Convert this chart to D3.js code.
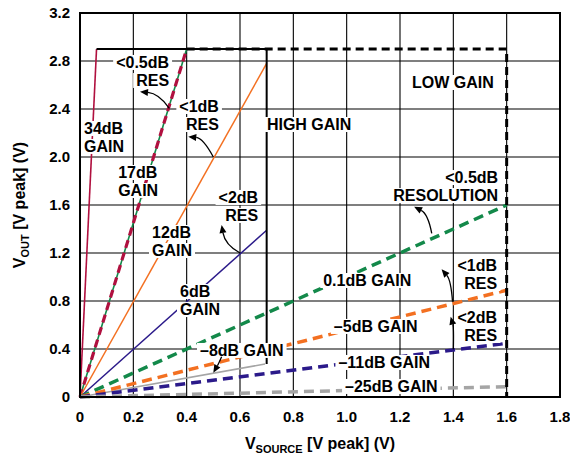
<!DOCTYPE html>
<html>
<head>
<meta charset="utf-8">
<script src="https://cdn.jsdelivr.net/npm/d3@7/dist/d3.min.js"></script>
<style>
  body { margin: 0; background: #fff; }
  svg { display: block; font-family: "Liberation Sans", Arial, sans-serif; font-weight: bold; }
</style>
</head>
<body>
<div id="chart"></div>
<script>
// axis ticks
const xTicks = [0, 0.2, 0.4, 0.6, 0.8, 1.0, 1.2, 1.4, 1.6, 1.8];
const yTicks = [0, 0.4, 0.8, 1.2, 1.6, 2.0, 2.4, 2.8, 3.2];
const xTickLabels = ["0", "0.2", "0.4", "0.6", "0.8", "1.0", "1.2", "1.4", "1.6", "1.8"];
const yTickLabels = ["0", "0.4", "0.8", "1.2", "1.6", "2.0", "2.4", "2.8", "3.2"];

// gain lines: each starts at the origin and ends where it clips
const gainNames = ["34dB", "17dB", "12dB", "6dB", "–8dB", "0.1dB", "–5dB", "–11dB", "–25dB"];
const endVsource = [0.062, 0.4, 0.7, 0.7, 0.694, 1.6, 1.6, 1.6, 1.6];
const endVout = [2.9, 2.9, 2.78, 1.39, 0.275, 1.6, 0.89, 0.447, 0.086];

// range boxes
const highGainBox = [[0.062, 2.9], [0.7, 2.9], [0.7, 0.275]];
const lowGainBox = [[0.4, 2.9], [1.6, 2.9], [1.6, 0]];

// text annotations: lines, anchor point (V), alignment
const notes = [
  { lines: ["<0.5dB", "RES"], x: 0.334, y: 2.742, align: "end" },
  { lines: ["<1dB", "RES"], x: 0.521, y: 2.375, align: "end" },
  { lines: ["34dB", "GAIN"], x: 0.015, y: 2.192, align: "start" },
  { lines: ["17dB", "GAIN"], x: 0.143, y: 1.825, align: "start" },
  { lines: ["HIGH GAIN"], x: 0.701, y: 2.225, align: "start" },
  { lines: ["LOW GAIN"], x: 1.245, y: 2.575, align: "start" },
  { lines: ["<0.5dB", "RESOLUTION"], x: 1.568, y: 1.783, align: "end" },
  { lines: ["<2dB", "RES"], x: 0.668, y: 1.617, align: "end" },
  { lines: ["12dB", "GAIN"], x: 0.27, y: 1.325, align: "start" },
  { lines: ["6dB", "GAIN"], x: 0.375, y: 0.833, align: "start" },
  { lines: ["0.1dB GAIN"], x: 0.912, y: 0.925, align: "start" },
  { lines: ["–5dB GAIN"], x: 0.952, y: 0.542, align: "start" },
  { lines: ["–8dB GAIN"], x: 0.45, y: 0.342, align: "start" },
  { lines: ["–11dB GAIN"], x: 0.969, y: 0.242, align: "start" },
  { lines: ["–25dB GAIN"], x: 0.994, y: 0.042, align: "start" },
  { lines: ["<1dB", "RES"], x: 1.564, y: 1.05, align: "end" },
  { lines: ["<2dB", "RES"], x: 1.564, y: 0.617, align: "end" },
];

// curved pointer arrows: tail, control, head (V)
const arrows = [
  { from: [0.335, 2.406], ctrl: [0.295, 2.53], to: [0.225, 2.544] },
  { from: [0.5, 2.0], ctrl: [0.461, 2.158], to: [0.406, 2.169] },
  { from: [0.6, 1.2], ctrl: [0.544, 1.267], to: [0.531, 1.433] },
  { from: [1.319, 1.364], ctrl: [1.305, 1.525], to: [1.253, 1.586] },
  { from: [1.397, 0.794], ctrl: [1.391, 0.975], to: [1.356, 1.064] },
  { from: [1.4, 0.397], ctrl: [1.402, 0.575], to: [1.39, 0.669] },
  { from: [0.531, 0.336], ctrl: [0.521, 0.283], to: [0.5, 0.2025] },
];

const CRIMSON = "#b0103f";
const GREEN = "#13894a";
const ORANGE = "#f37021";
const PURPLE = "#2b1a8a";
const GRAY = "#a5a5a5";

const lineStyle = {
  "34dB": { color: CRIMSON, width: 1.6 },
  "17dB": { color: CRIMSON, width: 3.2, dash: "8,5", under: GREEN },
  "12dB": { color: ORANGE, width: 1.5 },
  "6dB": { color: PURPLE, width: 1.5 },
  "–8dB": { color: GRAY, width: 1.5 },
  "0.1dB": { color: GREEN, width: 3.5, dash: "10,6" },
  "–5dB": { color: ORANGE, width: 3.5, dash: "10,6" },
  "–11dB": { color: PURPLE, width: 3.5, dash: "10,6" },
  "–25dB": { color: GRAY, width: 3.5, dash: "10,6" },
};

const width = 570;
const height = 455;
const margin = { top: 13, right: 10, bottom: 58, left: 80 };

const svg = d3.select("#chart").append("svg")
  .attr("width", width)
  .attr("height", height);

const x = d3.scaleLinear().domain([0, 1.8]).range([margin.left, width - margin.right]);
const y = d3.scaleLinear().domain([0, 3.2]).range([height - margin.bottom, margin.top]);

// grid
const grid = svg.append("g").attr("stroke", "#000").attr("stroke-width", 1.1);
grid.selectAll("line.vx").data(xTicks.slice(1, -1)).join("line")
  .attr("x1", (d) => x(d)).attr("x2", (d) => x(d))
  .attr("y1", y(0)).attr("y2", y(3.2));
grid.selectAll("line.hy").data(yTicks.slice(1, -1)).join("line")
  .attr("class", "hy")
  .attr("x1", x(0)).attr("x2", x(1.8))
  .attr("y1", (d) => y(d)).attr("y2", (d) => y(d));

const line = d3.line().x((d) => x(d[0])).y((d) => y(d[1]));

// gain lines
const gainData = gainNames.map((name, i) => ({
  name,
  points: [[0, 0], [endVsource[i], endVout[i]]],
}));

const lines = svg.append("g").attr("fill", "none");
gainData.forEach((d) => {
  const st = lineStyle[d.name];
  if (st.under) {
    lines.append("path").attr("d", line(d.points))
      .attr("stroke", st.under).attr("stroke-width", 1.6);
  }
  lines.append("path").attr("d", line(d.points))
    .attr("stroke", st.color)
    .attr("stroke-width", st.width)
    .attr("stroke-dasharray", st.dash || null);
});

// range boxes
svg.append("path").attr("d", line(lowGainBox))
  .attr("fill", "none").attr("stroke", "#000")
  .attr("stroke-width", 3).attr("stroke-dasharray", "8,5");
svg.append("path").attr("d", line(highGainBox))
  .attr("fill", "none").attr("stroke", "#000").attr("stroke-width", 2);

// labels with white backing
const lineGap = 18;
const noteLayer = svg.append("g").attr("font-size", 16);
notes.forEach((n) => {
  const g = noteLayer.append("g");
  const texts = n.lines.map((t, i) =>
    g.append("text")
      .attr("x", x(n.x))
      .attr("y", y(n.y) + i * lineGap)
      .attr("text-anchor", n.align)
      .text(t)
  );
  texts.forEach((t) => {
    const b = t.node().getBBox();
    g.insert("rect", "text")
      .attr("x", b.x - 3).attr("y", b.y + 1)
      .attr("width", b.width + 6).attr("height", b.height - 2)
      .attr("fill", "#fff");
  });
});

// arrows
const arrowLayer = svg.append("g");
arrows.forEach((a) => {
  const p0 = [x(a.from[0]), y(a.from[1])];
  const c = [x(a.ctrl[0]), y(a.ctrl[1])];
  const p1 = [x(a.to[0]), y(a.to[1])];
  const ang = Math.atan2(p1[1] - c[1], p1[0] - c[0]);
  const len = 8, half = 3.5;
  const back = [p1[0] - len * Math.cos(ang), p1[1] - len * Math.sin(ang)];
  arrowLayer.append("path")
    .attr("d", `M${p0[0]},${p0[1]} Q${c[0]},${c[1]} ${back[0]},${back[1]}`)
    .attr("fill", "none").attr("stroke", "#000").attr("stroke-width", 1.3);
  const left = [back[0] + half * Math.sin(ang), back[1] - half * Math.cos(ang)];
  const right = [back[0] - half * Math.sin(ang), back[1] + half * Math.cos(ang)];
  arrowLayer.append("path")
    .attr("d", `M${p1[0]},${p1[1]} L${left[0]},${left[1]} L${right[0]},${right[1]} Z`)
    .attr("fill", "#000");
});

// plot frame
svg.append("rect")
  .attr("x", x(0)).attr("y", y(3.2))
  .attr("width", x(1.8) - x(0)).attr("height", y(0) - y(3.2))
  .attr("fill", "none").attr("stroke", "#000").attr("stroke-width", 2);

// tick labels
svg.append("g").attr("font-size", 15)
  .selectAll("text").data(xTicks).join("text")
  .attr("x", (d) => x(d)).attr("y", y(0) + 25)
  .attr("text-anchor", "middle")
  .text((d, i) => xTickLabels[i]);

svg.append("g").attr("font-size", 15)
  .selectAll("text").data(yTicks).join("text")
  .attr("x", x(0) - 10).attr("y", (d) => y(d) + 5)
  .attr("text-anchor", "end")
  .text((d, i) => yTickLabels[i]);

// axis titles
const xTitle = svg.append("text")
  .attr("x", (x(0) + x(1.8)) / 2).attr("y", 449)
  .attr("text-anchor", "middle").attr("font-size", 16);
xTitle.append("tspan").text("V");
xTitle.append("tspan").attr("font-size", 11).attr("dy", 4).text("SOURCE");
xTitle.append("tspan").attr("dy", -4).text(" [V peak] (V)");

const yTitle = svg.append("text")
  .attr("transform", `translate(25, ${(y(0) + y(3.2)) / 2}) rotate(-90)`)
  .attr("text-anchor", "middle").attr("font-size", 16);
yTitle.append("tspan").text("V");
yTitle.append("tspan").attr("font-size", 11).attr("dy", 4).text("OUT");
yTitle.append("tspan").attr("dy", -4).text(" [V peak] (V)");
</script>
</body>
</html>
